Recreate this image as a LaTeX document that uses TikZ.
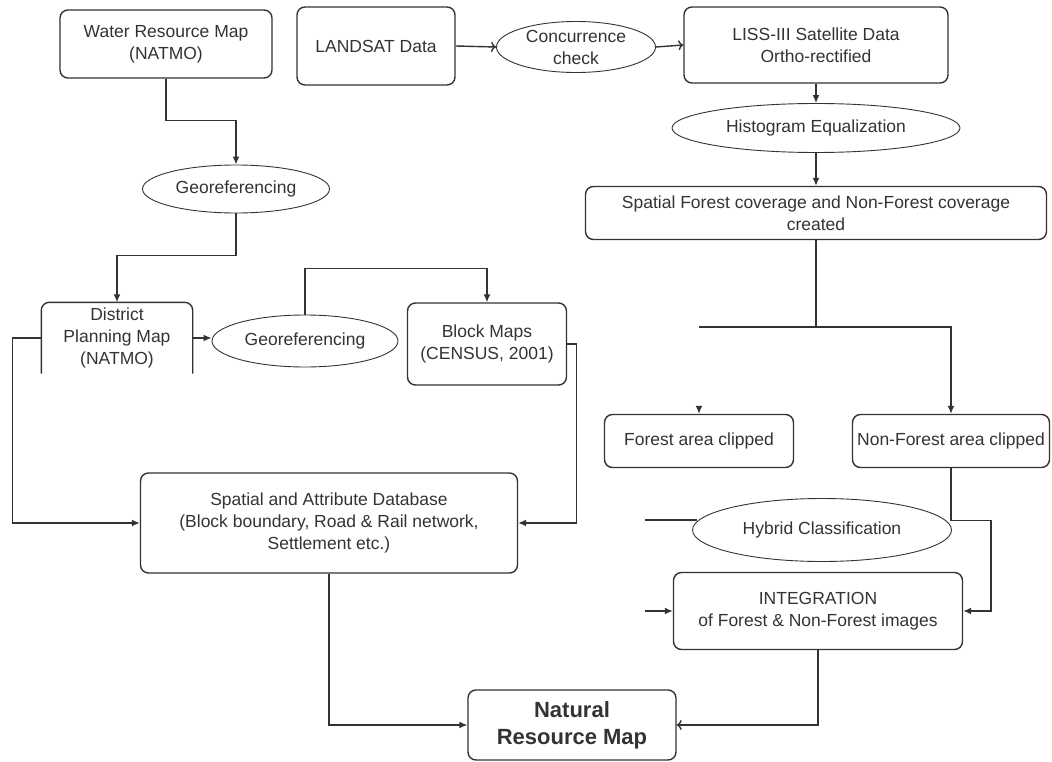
\documentclass[tikz,border=0pt]{standalone}
\usepackage{fontspec}
\setmainfont{Liberation Sans}
\usepackage{xcolor}
\usepackage{tikz}
\usetikzlibrary{shapes.geometric, arrows.meta}
\definecolor{inkgray}{HTML}{333333}

\begin{document}
\begin{tikzpicture}[x=1pt, y=-1pt, color=inkgray, line width=1.4pt,
        font=\fontsize{17.5}{22}\selectfont,
        box/.style={rectangle, rounded corners=8pt, draw, align=center, inner sep=0pt},
        oval/.style={ellipse, draw, line width=0.9pt, align=center, inner sep=0pt},
        arr/.style={-{Latex[length=8pt,width=7pt]}},
        oarr/.style={-{To[length=5pt,width=10pt]}}]
        \useasboundingbox (0,0) rectangle (1052,762);
        \begin{scope}[every node/.style={box}]
            \node[minimum width=212pt, minimum height=68pt] (water) at (166,44) {Water Resource Map\\(NATMO)};
            \node[minimum width=158pt, minimum height=78pt] (landsat) at (376,46) {LANDSAT Data};
            \node[minimum width=264pt, minimum height=76pt] (liss) at (816,45) {LISS-III Satellite Data\\Ortho-rectified};
            \node[minimum width=461pt, minimum height=53pt] (spatialf) at (816,213) {Spatial Forest coverage and Non-Forest coverage\\created};
            \node[draw=none, minimum width=150pt, minimum height=70pt] (district) at (117,338) {District\\Planning Map\\(NATMO)};
            \node[minimum width=159pt, minimum height=82pt] (block) at (487,344) {Block Maps\\(CENSUS, 2001)};
            \node[minimum width=377pt, minimum height=100pt] (spatial) at (329,523) {Spatial and Attribute Database\\(Block boundary, Road \& Rail network,\\Settlement etc.)};
            \node[minimum width=189pt, minimum height=53pt] (forest) at (699,441) {Forest area clipped};
            \node[minimum width=197pt, minimum height=53pt] (nonforest) at (951,441) {Non-Forest area clipped};
            \node[minimum width=289pt, minimum height=77pt] (integ) at (818,611) {INTEGRATION\\of Forest \& Non-Forest images};
            \node[minimum width=208pt, minimum height=70pt, font=\fontsize{22}{27}\selectfont\bfseries] (natural) at (572,725) {Natural\\Resource Map};
        \end{scope}
        \begin{scope}[every node/.style={oval}]
            \node[minimum width=159pt, minimum height=51pt] (concur) at (576,47) {Concurrence\\check};
            \node[minimum width=288pt, minimum height=49pt] (hist) at (816,128) {Histogram Equalization};
            \node[minimum width=187pt, minimum height=48pt] (georefA) at (236,189) {Georeferencing};
            \node[minimum width=186pt, minimum height=52pt] (georefB) at (305,341) {Georeferencing};
            \node[minimum width=259pt, minimum height=63pt] (hybrid) at (822,530) {Hybrid Classification};
        \end{scope}
        % open-bottom district box
        \draw[rounded corners=8pt] (district.south west) -- (district.north west) -- (district.north east) -- (district.south east);
        % free ends
        \coordinate (split) at (816,327);
        \coordinate (hybin) at (645,520);
        \coordinate (intin) at (645,611);
        \begin{scope}
            \draw[arr] (water.south) -- ++(0,42) -| (georefA.north);
            \draw[arr] (georefA.south) -- ++(0,42) -| (district.north);
            \draw[arr] (district.east) -- (district.east -| georefB.west);
            \draw[arr] (georefB.north) -- ++(0,-46) -| (block.north);
            \draw[oarr] (landsat.east) -- (concur.west);
            \draw[oarr] (concur.east) -- (liss.west);
            \draw[arr] (liss.south) -- (hist.north);
            \draw[arr] (hist.south) -- (spatialf.north);
            \draw (spatialf.south) -- (split);
            \draw[arr] (split) -| (nonforest.north);
            \draw (split) -- (split -| forest.north);
            \draw[arr] ([yshift=8pt]forest.north) -- (forest.north);
            \draw[arr] (nonforest.south) -- ++(0,52) -- ++(40,0) |- (integ.east);
            \draw (hybin) -- ++(52,0);
            \draw[arr] (intin) -- (integ.west);
            \draw[oarr] (integ.south) |- (natural.east);
            \draw[arr] (district.west) -- ++(-29,0) |- (spatial.west);
            \draw[arr] (block.east) -- ++(9,0) |- (spatial.east);
            \draw[arr] (spatial.south) |- (natural.west);
        \end{scope}
    \end{tikzpicture}
\end{document}
